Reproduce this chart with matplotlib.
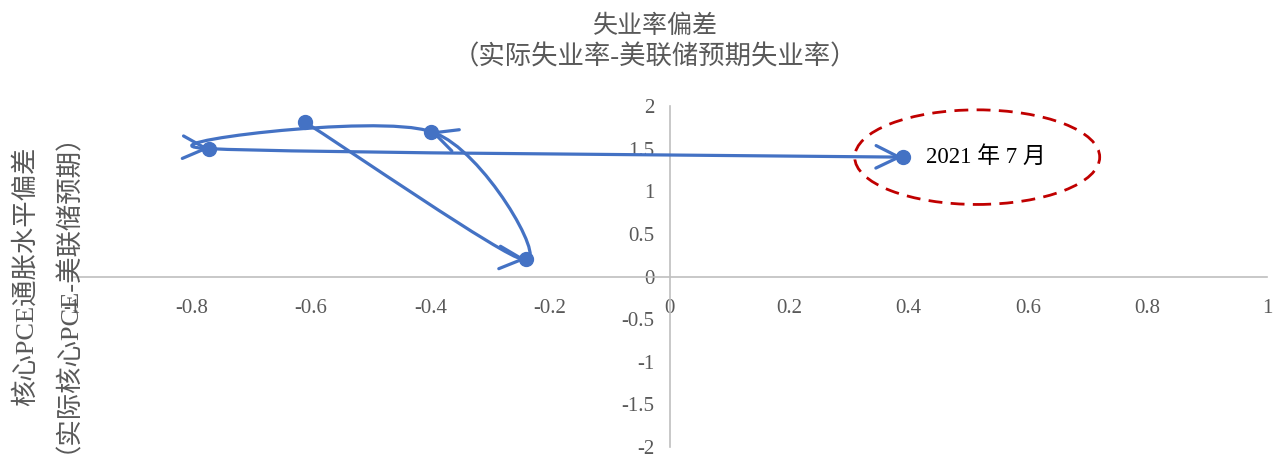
"""Phillips-style loop: unemployment gap vs core PCE gap."""

import matplotlib

matplotlib.use("Agg")

import matplotlib.pyplot as plt
import numpy as np
from matplotlib.patches import Ellipse, FancyArrowPatch, ArrowStyle
from matplotlib.path import Path

# data, in drawing order
unemp_gap = [-0.61, -0.24, -0.40, -0.77, 0.39]
pce_gap = [1.81, 0.20, 1.70, 1.50, 1.40]
last_label = "2021 年 7 月"

title_lines = ["失业率偏差", "（实际失业率-美联储预期失业率）"]
ylabel_lines = ["核心PCE通胀水平偏差", "（实际核心PCE-美联储预期）"]

x_ticks = [-1, -0.8, -0.6, -0.4, -0.2, 0, 0.2, 0.4, 0.6, 0.8, 1]
y_ticks = [-2, -1.5, -1, -0.5, 0, 0.5, 1, 1.5, 2]

LINE_COLOR = "#4472C4"
AXIS_COLOR = "#BFBFBF"
TEXT_COLOR = "#595959"
RED = "#C00000"
FONTS = ["Liberation Serif", "Noto Sans CJK SC"]

plt.rcParams["font.family"] = FONTS

fig = plt.figure(figsize=(12.8, 4.57), dpi=100)
fig.patch.set_facecolor("white")
ax = fig.add_axes([72 / 1280, 10 / 457, 1195 / 1280, 341 / 457])
ax.set_xlim(-1, 1)
ax.set_ylim(-2, 2)

for side in ("top", "right"):
    ax.spines[side].set_visible(False)
for side in ("left", "bottom"):
    ax.spines[side].set_position(("data", 0))
    ax.spines[side].set_color(AXIS_COLOR)
    ax.spines[side].set_linewidth(1.2)

ax.set_xticks(x_ticks)
ax.set_xticklabels([f"{v:g}" for v in x_ticks])
ax.set_yticks(y_ticks)
ax.set_yticklabels([f"{v:g}" for v in y_ticks])
ax.tick_params(axis="x", length=0, pad=16, labelsize=15, labelcolor=TEXT_COLOR)
ax.tick_params(axis="y", length=0, pad=11, labelsize=15, labelcolor=TEXT_COLOR)

# smooth line like a spreadsheet: Catmull-Rom bezier in screen space
pts = ax.transData.transform(np.column_stack([unemp_gap, pce_gap]))
n = len(pts)
inv = ax.transData.inverted()
style = ArrowStyle("->", head_length=0.55, head_width=0.27)
for i in range(n - 1):
    p_prev = pts[max(i - 1, 0)]
    p_next2 = pts[min(i + 2, n - 1)]
    c1 = pts[i] + (pts[i + 1] - p_prev) / 6
    c2 = pts[i + 1] - (p_next2 - pts[i]) / 6
    verts = inv.transform(np.array([pts[i], c1, c2, pts[i + 1]]))
    path = Path(verts, [Path.MOVETO, Path.CURVE4, Path.CURVE4, Path.CURVE4])
    arrow = FancyArrowPatch(
        path=path,
        arrowstyle=style,
        mutation_scale=30,
        color=LINE_COLOR,
        linewidth=2.3,
        capstyle="round",
        joinstyle="round",
        zorder=3,
    )
    ax.add_patch(arrow)

ax.plot(unemp_gap, pce_gap, linestyle="none", marker="o", markersize=10,
        color=LINE_COLOR, zorder=4)

# highlight the latest point
ax.add_patch(Ellipse((unemp_gap[-1] + 0.125, pce_gap[-1]), 0.41, 1.11,
                     fill=False, edgecolor=RED, linewidth=2.0,
                     linestyle=(0, (5, 3)), zorder=2))
ax.annotate(last_label, (unemp_gap[-1], pce_gap[-1]), xytext=(17, 0),
            textcoords="offset points", ha="left", va="center",
            fontsize=16.5, color="black")

for line, y_px, size in zip(title_lines, [26, 57], [18, 19]):
    fig.text(655 / 1280, 1 - y_px / 457, line, ha="center", va="center",
             fontsize=size, color=TEXT_COLOR)
for line, x_px, y_px in zip(ylabel_lines, [25, 54], [276, 279]):
    fig.text(x_px / 1280, 1 - y_px / 457, line, ha="center", va="center",
             rotation=90, fontsize=19, color=TEXT_COLOR)

fig.savefig("out.png", dpi=100, facecolor="white")
